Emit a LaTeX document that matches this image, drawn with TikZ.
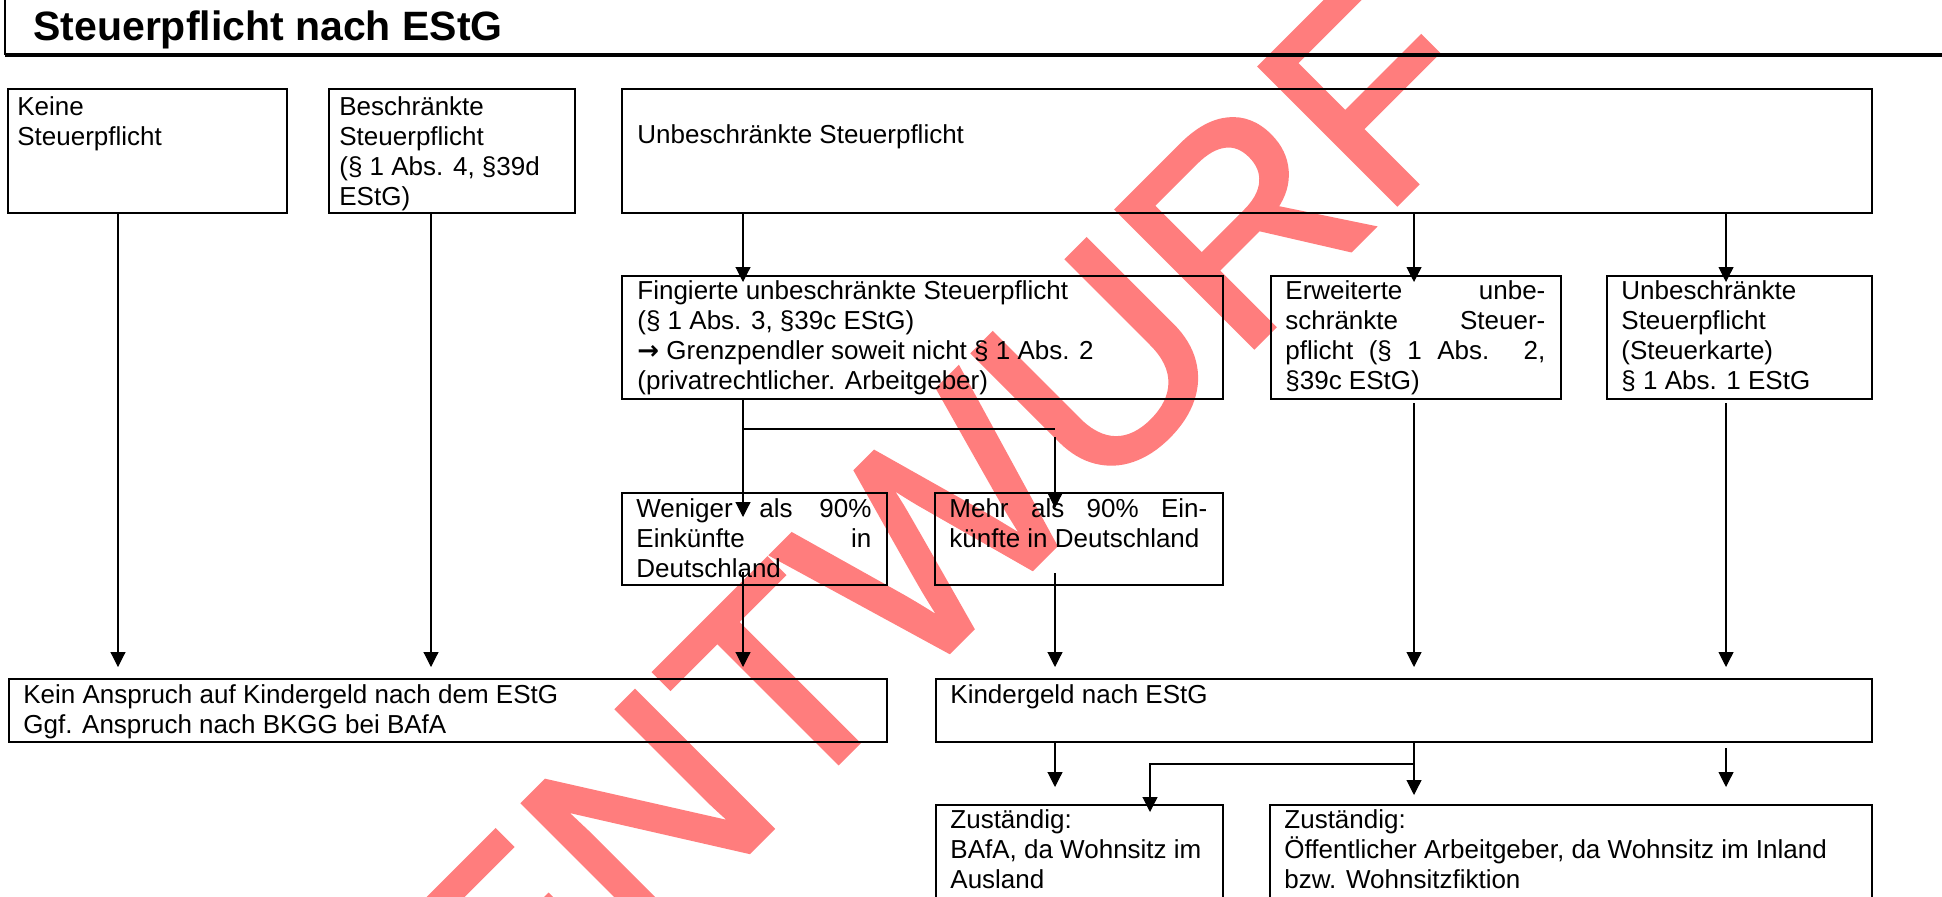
\documentclass[tikz,border=0pt]{standalone}
\usepackage{fontspec}
\setmainfont{Liberation Sans}
\newfontfamily\symfont{DejaVu Sans}
\newfontfamily\wmfont[FakeBold=2]{Liberation Sans}
\usetikzlibrary{arrows.meta,calc}
\definecolor{wm}{RGB}{255,125,125}
\newcommand\fl{\rule{0pt}{12pt}}

\begin{document}
\begin{tikzpicture}[x=0.5pt,y=-0.5pt,
  box/.style={draw, line width=0.75pt, inner sep=0pt, anchor=north west},
  txt/.style={anchor=north west, inner sep=0pt, align=left,
              font=\fontsize{13pt}{15pt}\selectfont},
  conn/.style={line width=0.55pt},
  arr/.style={conn, -{Triangle[width=7.5pt,length=7.5pt]}}]

\useasboundingbox (0,0) rectangle (1942,896);

% watermark behind everything
\node[rotate=45, anchor=base west, inner sep=0pt, text=wm,
      font=\wmfont\fontsize{140pt}{140pt}\selectfont] (wmark) at (512,1088) {ENTWURF};

% heading with its frame
\node[anchor=base west, inner sep=0pt,
      font=\fontsize{20.5pt}{24pt}\selectfont\bfseries] (title) at (33,40)
      {Steuerpflicht nach EStG};
\draw[line width=0.8pt] (5,-2) -- (5,55);
\draw[line width=1.6pt] (5,55) -- (1942,55);

% first row
\node[box, minimum width=139.5pt, minimum height=62pt] (keine) at (7,88) {};
\node[box, minimum width=123pt,   minimum height=62pt] (besch) at (328,88) {};
\node[box, minimum width=625pt,   minimum height=62pt] (unb)   at (621,88) {};
\node[txt] (keineT) at (17,91)  {\fl Keine\\Steuerpflicht};
\node[txt] (beschT) at (339,91) {\fl Beschränkte\\Steuerpflicht\\(§ 1 Abs. 4, §39d\\EStG)};
\node[txt] (unbT)   at (637,119) {\fl Unbeschränkte Steuerpflicht};

% second row
\node[box, minimum width=300.5pt, minimum height=61.5pt] (fing) at (621,275) {};
\node[box, minimum width=145pt,   minimum height=61.5pt] (erw)  at (1270,275) {};
\node[box, minimum width=132.5pt, minimum height=61.5pt] (unb2) at (1606,275) {};
\node[txt] (fingT) at (637,275) {\fl Fingierte unbeschränkte Steuerpflicht\\
  (§ 1 Abs. 3, §39c EStG)\\
  {\symfont\bfseries →} Grenzpendler soweit nicht § 1 Abs. 2\\
  (privatrechtlicher. Arbeitgeber)};
\node[txt] (erwT) at (1285,275) {\fl\makebox[130pt][s]{Erweiterte unbe-}\\
  \makebox[130pt][s]{schränkte Steuer-}\\
  \makebox[130pt][s]{pflicht (§ 1 Abs. 2,}\\
  §39c EStG)};
\node[txt] (unb2T) at (1621,275) {\fl Unbeschränkte\\Steuerpflicht\\(Steuerkarte)\\§ 1 Abs. 1 EStG};

% income split
\node[box, minimum width=132.5pt, minimum height=46pt] (wen)  at (621,492) {};
\node[box, minimum width=144pt,   minimum height=46pt] (mehr) at (934,492) {};
\node[txt] (wenT) at (636,493) {\fl\makebox[117.5pt][s]{Weniger als 90\%}\\
  \makebox[117.5pt][s]{Einkünfte in}\\Deutschland};
\node[txt] (mehrT) at (949,493) {\fl\makebox[129pt][s]{Mehr als 90\% Ein-}\\
  künfte in Deutschland};

% child benefit
\node[box, minimum width=439pt, minimum height=31.5pt] (kein) at (8,678) {};
\node[box, minimum width=468pt, minimum height=31.5pt] (kind) at (935,678) {};
\node[txt] (keinT) at (23,679) {\fl Kein Anspruch auf Kindergeld nach dem EStG\\
  Ggf. Anspruch nach BKGG bei BAfA};
\node[txt] (kindT) at (950,679) {\fl Kindergeld nach EStG};

% responsible offices
\node[box, minimum width=143.5pt, minimum height=53pt] (bafa) at (935,804) {};
\node[box, minimum width=301pt,   minimum height=53pt] (oeff) at (1269,804) {};
\node[txt] (bafaT) at (950,804) {\fl Zuständig:\\BAfA, da Wohnsitz im\\Ausland};
\node[txt] (oeffT) at (1284,804) {\fl Zuständig:\\
  Öffentlicher Arbeitgeber, da Wohnsitz im Inland\\bzw. Wohnsitzfiktion};

% connector end points
\coordinate (a1) at (118,667);
\coordinate (a2) at (431,667);
\coordinate (b1) at (743,282);
\coordinate (b2) at (1414,282);
\coordinate (b3) at (1726,282);
\coordinate (c1) at (743,517);
\coordinate (j1) at (743,429);
\coordinate (j2) at (1055,429);
\coordinate (m0) at (1055,437);
\coordinate (m1) at (1055,508);
\coordinate (d1s) at (743,572);
\coordinate (d1) at (743,667);
\coordinate (d2s) at (1055,573);
\coordinate (d2) at (1055,667);
\coordinate (d3s) at (1414,403);
\coordinate (d3) at (1414,667);
\coordinate (d4s) at (1726,403);
\coordinate (d4) at (1726,667);
\coordinate (e1) at (1055,787);
\coordinate (e2) at (1414,795);
\coordinate (e3) at (1414,764);
\coordinate (e4) at (1150,764);
\coordinate (e5) at (1150,812);
\coordinate (e6s) at (1726,748);
\coordinate (e6) at (1726,787);

% connectors
\draw[arr] (keine.south -| a1) -- (a1);
\draw[arr] (besch.south -| a2) -- (a2);
\draw[arr] (unb.south -| b1) -- (b1);
\draw[arr] (unb.south -| b2) -- (b2);
\draw[arr] (unb.south -| b3) -- (b3);
\draw[arr] (fing.south -| c1) -- (c1);
\draw[conn] (j1) -- (j2);
\draw[arr] (m0) -- (m1);
\draw[arr] (d1s) -- (d1);
\draw[arr] (d2s) -- (d2);
\draw[arr] (d3s) -- (d3);
\draw[arr] (d4s) -- (d4);
\draw[arr] (kind.south -| e1) -- (e1);
\draw[arr] (kind.south -| e2) -- (e2);
\draw[arr] (e3) -- (e4) -- (e5);
\draw[arr] (e6s) -- (e6);
\end{tikzpicture}
\end{document}
